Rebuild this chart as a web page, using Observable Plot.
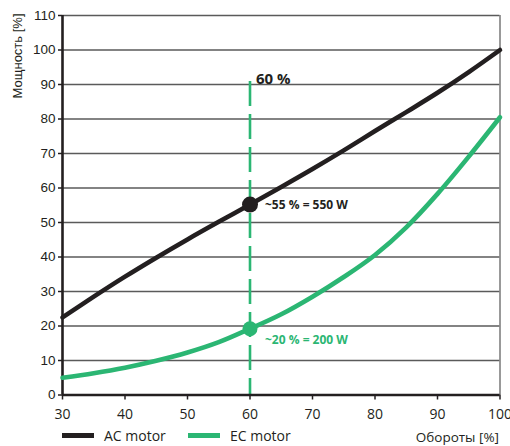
<!DOCTYPE html>
<html>
<head>
<meta charset="utf-8">
<script src="https://cdn.jsdelivr.net/npm/d3@7"></script>
<script src="https://cdn.jsdelivr.net/npm/@observablehq/plot@0.6"></script>
<style>
  html, body { margin: 0; padding: 0; background: #fff; }
  #wrap { width: 510px; position: relative; }
  svg g[aria-label="y-axis tick label"] { font-family: "Liberation Sans", Arial, sans-serif; }
  svg g[aria-label="x-axis tick label"] { font-family: "Open Sans", sans-serif; }
  #legend { position: relative; height: 24px; font-family: "Open Sans", sans-serif; font-size: 14px; color: #231f20; }
  .item { position: absolute; top: 4px; display: flex; align-items: center; }
  .sw { display: inline-block; width: 32px; height: 5px; margin-right: 10px; }
  #xlabel { position: absolute; right: 11px; top: 6px; font-size: 13.5px; color: #231f20; }
</style>
</head>
<body>
<div id="wrap"></div>
<script>
// Data
const speed = [30, 35, 40, 45, 50, 55, 60, 65, 70, 75, 80, 85, 90, 95, 100];
const acMotor = [22.5, 28.5, 34.3, 39.8, 45.1, 50.2, 55.2, 60.3, 65.5, 70.9, 76.5, 82, 87.6, 93.6, 100];
const ecMotor = [5, 6.3, 7.9, 9.9, 12.3, 15.3, 19.2, 23.4, 28.5, 34.2, 40.6, 48.6, 58.3, 69.1, 80.5];
const seriesNames = ["AC motor", "EC motor"];
const markerSpeed = 60;
const markerValues = [55.2, 19.2];
const markerLabels = ["~55 % = 550 W", "~20 % = 200 W"];
const markerTitle = "60 %";
const yTicks = [0, 10, 20, 30, 40, 50, 60, 70, 80, 90, 100, 110];
const xTicks = [30, 40, 50, 60, 70, 80, 90, 100];
const yLabel = "Мощность [%]";
const xLabel = "Обороты [%]";

const colors = ["#231f20", "#2bb673"];

const acRows = speed.map((s, i) => ({speed: s, value: acMotor[i]}));
const ecRows = speed.map((s, i) => ({speed: s, value: ecMotor[i]}));
const acMarker = [{speed: markerSpeed, value: markerValues[0], label: markerLabels[0]}];
const ecMarker = [{speed: markerSpeed, value: markerValues[1], label: markerLabels[1]}];

const chart = Plot.plot({
  width: 510,
  height: 422,
  marginLeft: 62,
  marginRight: 10.5,
  marginTop: 15,
  marginBottom: 27.5,
  style: {fontFamily: "Open Sans, sans-serif", color: "#231f20", background: "#fff"},
  x: {domain: [30, 100]},
  y: {domain: [0, 110]},
  marks: [
    Plot.gridY(yTicks, {stroke: "#5a5a5a", strokeOpacity: 1, strokeWidth: 1.4}),
    Plot.ruleX([100], {stroke: "#777", strokeWidth: 1.5}),
    Plot.ruleX([markerSpeed], {stroke: colors[1], strokeWidth: 2.6, strokeDasharray: "25,8", insetTop: 66}),
    Plot.ruleX([30], {stroke: "#231f20", strokeWidth: 2.6}),
    Plot.ruleY([0], {stroke: "#231f20", strokeWidth: 2.6}),
    Plot.axisY(yTicks, {label: null, tickSize: 4, tickPadding: 3, fontSize: 13.5, stroke: "#231f20", strokeWidth: 1.5, fill: "#231f20"}),
    Plot.axisX(xTicks, {label: null, tickSize: 5, tickPadding: 9, fontSize: 14, stroke: "#231f20", strokeWidth: 1.5, fill: "#231f20"}),
    Plot.line(acRows, {x: "speed", y: "value", stroke: colors[0], strokeWidth: 4.6, curve: "catmull-rom"}),
    Plot.line(ecRows, {x: "speed", y: "value", stroke: colors[1], strokeWidth: 4.6, curve: "catmull-rom"}),
    Plot.dot(acMarker, {x: "speed", y: "value", r: 8, fill: colors[0], stroke: null}),
    Plot.dot(ecMarker, {x: "speed", y: "value", r: 7.5, fill: colors[1], stroke: null}),
    Plot.text(acMarker, {x: "speed", y: "value", text: "label", textAnchor: "start", dx: 15, dy: 1, fontWeight: "bold", fontSize: 12, fill: colors[0]}),
    Plot.text(ecMarker, {x: "speed", y: "value", text: "label", textAnchor: "start", dx: 15, dy: 11, fontWeight: "bold", fontSize: 12, fill: colors[1]}),
    Plot.text([markerTitle], {x: () => markerSpeed, frameAnchor: "top", text: d => d, textAnchor: "start", dx: 6, dy: 58, fontWeight: "bold", fontSize: 15, fill: "#231f20"}),
    Plot.text([yLabel], {frameAnchor: "top-left", text: d => d, rotate: -90, textAnchor: "end", dx: -50, dy: -2, fontSize: 13, fontFamily: "Liberation Sans, Arial, sans-serif", fill: "#231f20"})
  ]
});

const wrap = document.getElementById("wrap");
wrap.appendChild(chart);

const legend = document.createElement("div");
legend.id = "legend";
const lefts = [62, 188];
seriesNames.forEach((name, i) => {
  const it = document.createElement("div");
  it.className = "item";
  it.style.left = lefts[i] + "px";
  const sw = document.createElement("span");
  sw.className = "sw";
  sw.style.background = colors[i];
  const t = document.createElement("span");
  t.textContent = name;
  it.appendChild(sw);
  it.appendChild(t);
  legend.appendChild(it);
});
const xl = document.createElement("div");
xl.id = "xlabel";
xl.textContent = xLabel;
legend.appendChild(xl);
wrap.appendChild(legend);
</script>
</body>
</html>
